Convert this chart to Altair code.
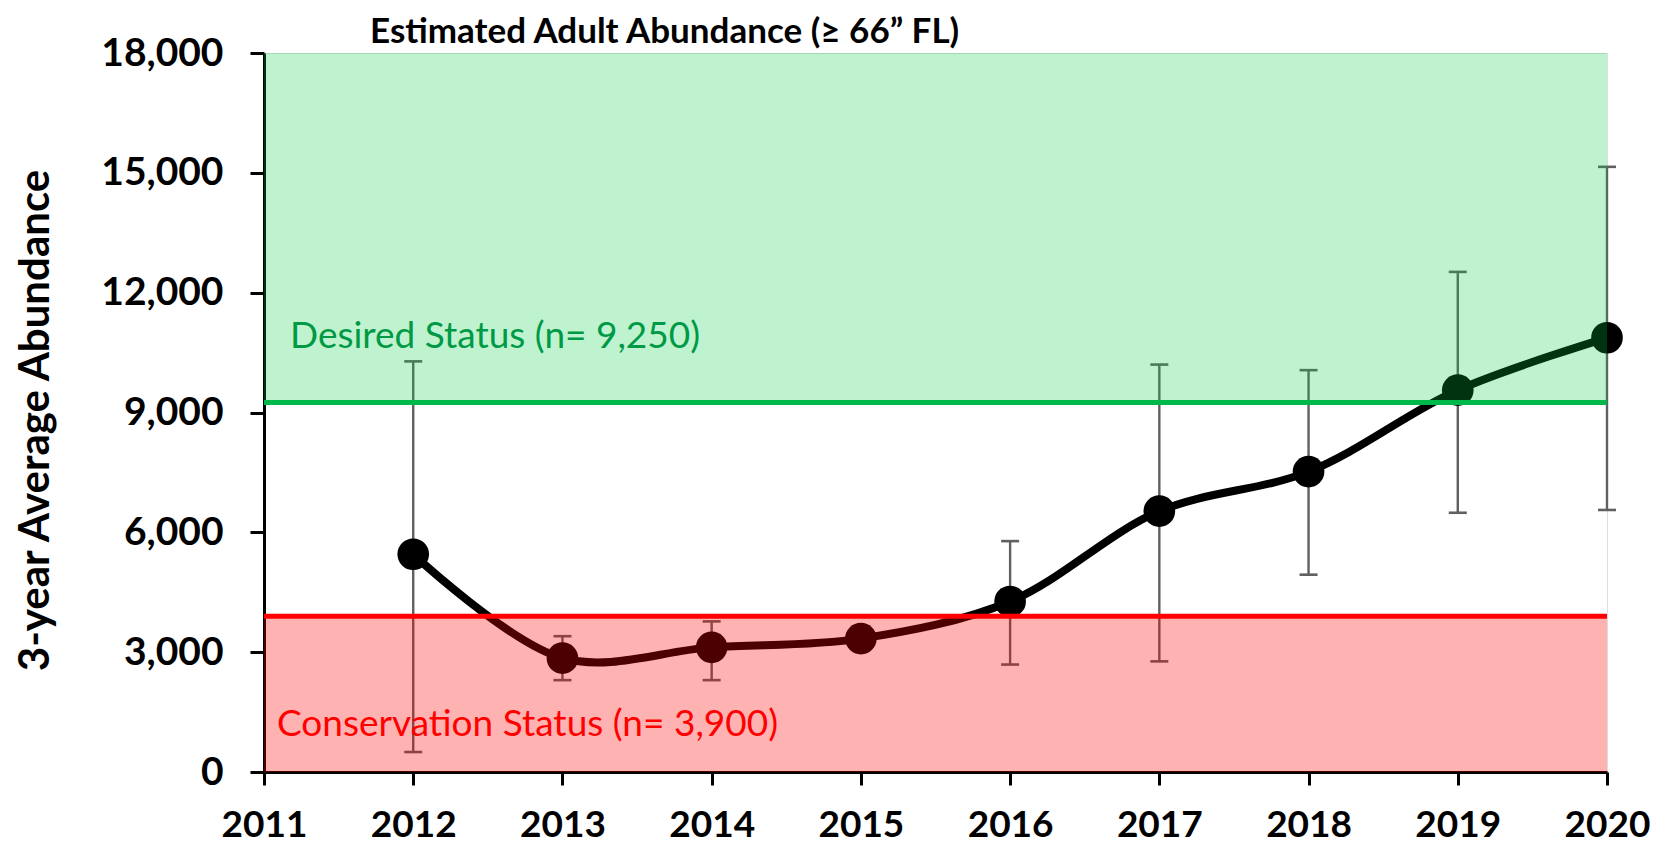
import altair as alt
import pandas as pd

# ---- data ----
years = [2012, 2013, 2014, 2015, 2016, 2017, 2018, 2019, 2020]
abundance = [5450, 2850, 3120, 3340, 4270, 6530, 7520, 9560, 10870]
err_low = [500, 2300, 2300, None, 2690, 2770, 4940, 6490, 6560]
err_high = [10280, 3400, 3770, None, 5780, 10200, 10060, 12520, 15150]

x_ticks = [2011, 2012, 2013, 2014, 2015, 2016, 2017, 2018, 2019, 2020]
y_ticks = [0, 3000, 6000, 9000, 12000, 15000, 18000]

desired_value = 9250
conservation_value = 3900
zone_start = [2011, 2011]
zone_end = [2020, 2020]
zone_low = [desired_value, 0]
zone_high = [18000, conservation_value]
zone_names = ["Desired", "Conservation"]

label_texts = ["Desired Status (n= 9,250)", "Conservation Status (n= 3,900)"]
label_x = [2011, 2011]
label_y = [10615, 900]

FONT = "Lato"

df = pd.DataFrame({"year": years, "abundance": abundance,
                   "low": err_low, "high": err_high})
err_df = df.dropna(subset=["low", "high"])
zones = pd.DataFrame({"x0": zone_start, "x1": zone_end, "y0": zone_low,
                      "y1": zone_high, "zone": zone_names})

xscale = alt.Scale(domain=[2011, 2020], nice=False, zero=False)
yscale = alt.Scale(domain=[0, 18000], nice=False)

common_axis = dict(labelFont=FONT, labelFontWeight="bold",
                   labelColor="black", domainColor="black", domainWidth=3,
                   tickColor="black", tickWidth=3, grid=False)

xaxis = alt.Axis(values=x_ticks, format="d", title=None, tickSize=13,
                 labelFontSize=37, labelPadding=22, labelFlush=False,
                 labelOverlap=False, **common_axis)
yaxis = alt.Axis(values=y_ticks, format=",d", title="3-year Average Abundance",
                 tickSize=14, labelPadding=27, labelFontSize=39,
                 titleFont=FONT, titleFontWeight="bold", titleFontSize=42,
                 titleColor="black", titleX=-229, titleY=367,
                 titleAlign="center", titleBaseline="middle", titleAngle=270,
                 **common_axis)

X = alt.X("year:Q", scale=xscale, axis=xaxis)
Y = alt.Y("abundance:Q", scale=yscale, axis=yaxis)

err_rule = alt.Chart(err_df).mark_rule(color="#606060", strokeWidth=2.4).encode(
    x=X, y=alt.Y("low:Q", scale=yscale, axis=yaxis), y2="high:Q")

cap_shape = "M -1 0 L 1 0"
cap_low = alt.Chart(err_df).mark_point(shape=cap_shape, size=324, filled=False,
                                        color="#606060", strokeWidth=2.6, opacity=1).encode(
    x=X, y=alt.Y("low:Q", scale=yscale, axis=yaxis))
cap_high = alt.Chart(err_df).mark_point(shape=cap_shape, size=324, filled=False,
                                         color="#606060", strokeWidth=2.6, opacity=1).encode(
    x=X, y=alt.Y("high:Q", scale=yscale, axis=yaxis))

line = alt.Chart(df).mark_line(color="black", strokeWidth=8,
                               interpolate="catmull-rom").encode(x=X, y=Y)
points = alt.Chart(df).mark_point(filled=True, color="black", size=1000,
                                  opacity=1).encode(x=X, y=Y)

green_zone = alt.Chart(zones[zones.zone == "Desired"]).mark_rect(
    color="#00D040", opacity=0.25).encode(
    x=alt.X("x0:Q", scale=xscale, axis=xaxis), x2="x1:Q",
    y=alt.Y("y0:Q", scale=yscale, axis=yaxis), y2="y1:Q")
red_zone = alt.Chart(zones[zones.zone == "Conservation"]).mark_rect(
    color="#FF0000", opacity=0.30).encode(
    x=alt.X("x0:Q", scale=xscale, axis=xaxis), x2="x1:Q",
    y=alt.Y("y0:Q", scale=yscale, axis=yaxis), y2="y1:Q")

green_rule = alt.Chart(zones[zones.zone == "Desired"]).mark_rule(
    color="#00B84A", strokeWidth=5).encode(
    x=alt.X("x0:Q", scale=xscale, axis=xaxis), x2="x1:Q",
    y=alt.Y("y0:Q", scale=yscale, axis=yaxis))
red_rule = alt.Chart(zones[zones.zone == "Conservation"]).mark_rule(
    color="#FF0000", strokeWidth=5).encode(
    x=alt.X("x0:Q", scale=xscale, axis=xaxis), x2="x1:Q",
    y=alt.Y("y1:Q", scale=yscale, axis=yaxis))

labels = pd.DataFrame({"x": label_x, "y": label_y, "text": label_texts})
desired_text = alt.Chart(labels.iloc[[0]]).mark_text(
    align="left", baseline="alphabetic", dx=26, font=FONT, fontSize=37,
    color="#009A46").encode(
    x=alt.X("x:Q", scale=xscale, axis=xaxis),
    y=alt.Y("y:Q", scale=yscale, axis=yaxis), text="text:N")
cons_text = alt.Chart(labels.iloc[[1]]).mark_text(
    align="left", baseline="alphabetic", dx=13, font=FONT, fontSize=37,
    color="#FF0000").encode(
    x=alt.X("x:Q", scale=xscale, axis=xaxis),
    y=alt.Y("y:Q", scale=yscale, axis=yaxis), text="text:N")

chart = alt.layer(
    err_rule, cap_low, cap_high, line, points,
    green_zone, red_zone, green_rule, red_rule, desired_text, cons_text
).properties(
    width=1343, height=719,
    title=alt.TitleParams(text="Estimated Adult Abundance (\u2265 66\u201d FL)",
                          font=FONT, fontSize=35, fontWeight="bold",
                          color="black", anchor="start", frame="group",
                          dx=106, offset=-16),
    padding={"left": 256, "top": 45, "right": 50, "bottom": 78},
    autosize=alt.AutoSizeParams(type="none"),
).configure_view(stroke=None).configure(background="white")

chart.save("out.html", embed_options={"renderer": "svg", "actions": False})
